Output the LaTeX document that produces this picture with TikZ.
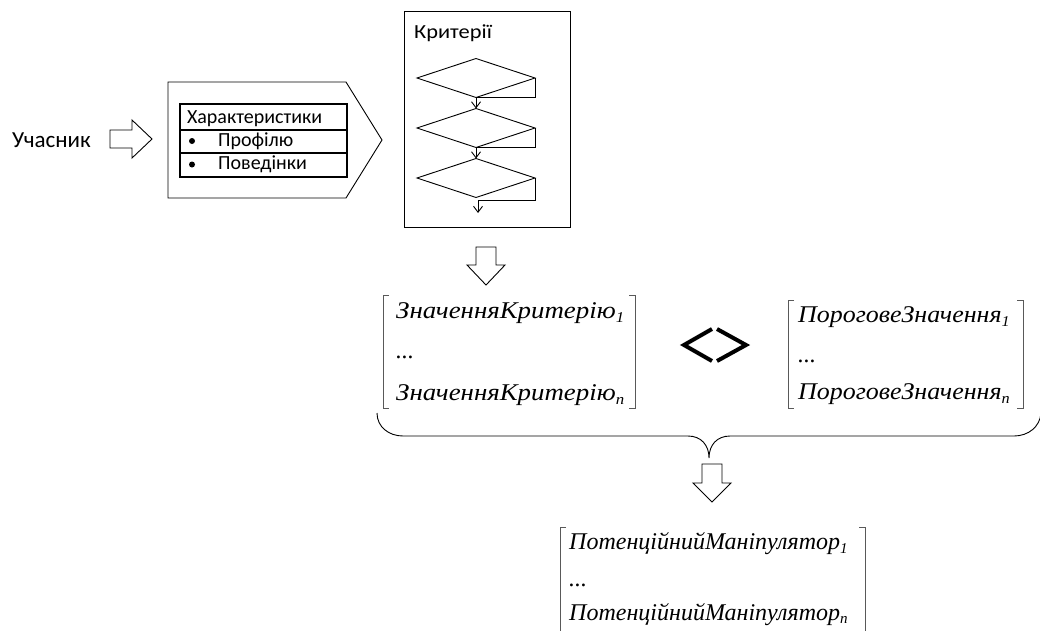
\documentclass[tikz,border=0pt]{standalone}
\usepackage{fontspec}
\setmainfont{Liberation Serif}
\newfontfamily\calfont{Carlito}
\usetikzlibrary{shapes.geometric,arrows.meta,calc}
\newcommand\sbs[1]{\raisebox{-4.5pt}{\fontsize{15}{15}\selectfont #1}}
\begin{document}
\begin{tikzpicture}[x=1pt,y=-1pt,
  sans/.style={font=\calfont\fontsize{20}{24}\selectfont, inner sep=0, anchor=base west},
  mat/.style={font=\fontsize{24}{28}\selectfont\itshape, inner sep=0, anchor=base west},
  brk/.style={draw=black!65, line width=0.9pt},
  blockarrow/.style={draw, line width=0.9pt, fill=white, line join=miter},
  dia/.style={diamond, draw, line width=0.9pt, minimum width=118pt, minimum height=39pt, inner sep=0, outer sep=0},
  flow/.style={draw, line width=0.9pt, -{Straight Barb[length=6pt,width=9pt]}},
  cell/.style={draw, line width=1.8pt, inner sep=0, outer sep=0, anchor=north west, minimum width=167pt}
]
\useasboundingbox (0,0) rectangle (1040,630);

% participant
\node[sans, font=\calfont\fontsize{23}{26}\selectfont] (uch) at (12,147) {Учасник};
\draw[blockarrow] (110,130) -- (132,130) -- (132,120) -- (152,139) -- (132,158) -- (132,148) -- (110,148) -- cycle;

% pentagon with table
\draw[line width=0.9pt] (168,82) -- (346,82) -- (382,140) -- (346,198) -- (168,198) -- cycle;
\node[cell, minimum height=26pt] (hdr) at (180,104) {};
\node[cell, minimum height=23pt] (row1) at (180,130) {};
\node[cell, minimum height=24pt] (row2) at (180,153) {};
\node[sans] (thdr) at (187,123) {Характеристики};
\fill (192,141) circle (3);
\node[sans] (trow1) at (218,146) {Профілю};
\fill (192,164.5) circle (3);
\node[sans] (trow2) at (218,169.5) {Поведінки};

% criteria box
\node[draw, line width=0.9pt, minimum width=166pt, minimum height=216pt, anchor=north west, inner sep=0] (crit) at (404,11) {};
\node[sans, font=\calfont\fontsize{20}{24}\selectfont] (crittitle) at (414,38) {\scalebox{1.12}[1]{Критерії}};
\node[dia] (d1) at (476,78) {};
\node[dia] (d2) at (476,128) {};
\node[dia] (d3) at (476,178) {};
\coordinate (r3) at (478,200);
\coordinate (end3) at (478,213);
\draw[flow] (d1.east) |- (d1.south) -- (d2.north);
\draw[flow] (d2.east) |- (d2.south) -- (d3.north);
\draw[flow] (d3.east) |- (r3) -- (end3);

% arrow down 1
\draw[blockarrow] (476,247) -- (496,247) -- (496,265) -- (505,265) -- (486,285) -- (467,265) -- (476,265) -- cycle;

% matrix 1
\node[mat] (m1a) at (396,318) {\scalebox{1.12}[1]{ЗначенняКритерію\sbs{1}}};
\node[mat] (m1b) at (396,358) {...};
\node[mat] (m1c) at (396,400) {\scalebox{1.12}[1]{ЗначенняКритерію\sbs{n}}};
\draw[brk] (389,295) -- (383,295) -- (383,408) -- (389,408);
\draw[brk] (629,295) -- (635,295) -- (635,408) -- (629,408);

% <> symbol
\draw[line width=4pt, line join=miter] (712,329) -- (684,345) -- (712,361);
\draw[line width=4pt, line join=miter] (717,329) -- (746,345) -- (717,361);

% matrix 2
\node[mat] (m2a) at (798,322) {\scalebox{1.08}[1]{ПороговеЗначення\sbs{1}}};
\node[mat] (m2b) at (798,362) {...};
\node[mat] (m2c) at (798,399) {\scalebox{1.08}[1]{ПороговеЗначення\sbs{n}}};
\draw[brk] (794,300) -- (788,300) -- (788,408) -- (794,408);
\draw[brk] (1017,300) -- (1023,300) -- (1023,408) -- (1017,408);

% brace
\draw[line width=0.9pt] (377,413) .. controls (377,427) and (389,436) .. (403,436) -- (688,436)
  .. controls (701,436) and (709,445) .. (709,458)
  .. controls (709,445) and (717,436) .. (730,436) -- (1014,436)
  .. controls (1028,436) and (1040,427) .. (1041,413);

% arrow down 2
\draw[blockarrow] (702,464) -- (722,464) -- (722,483) -- (731,483) -- (712,502) -- (693,483) -- (702,483) -- cycle;

% matrix 3
\node[mat] (m3a) at (569,549) {ПотенційнийМаніпулятор\sbs{1}};
\node[mat] (m3b) at (569,586) {...};
\node[mat] (m3c) at (569,620) {ПотенційнийМаніпулятор\raisebox{-3.5pt}{\fontsize{15}{15}\selectfont n}};
\draw[brk] (566,527) -- (560,527) -- (560,640);
\draw[brk] (859,527) -- (865,527) -- (865,640);
\end{tikzpicture}
\end{document}
